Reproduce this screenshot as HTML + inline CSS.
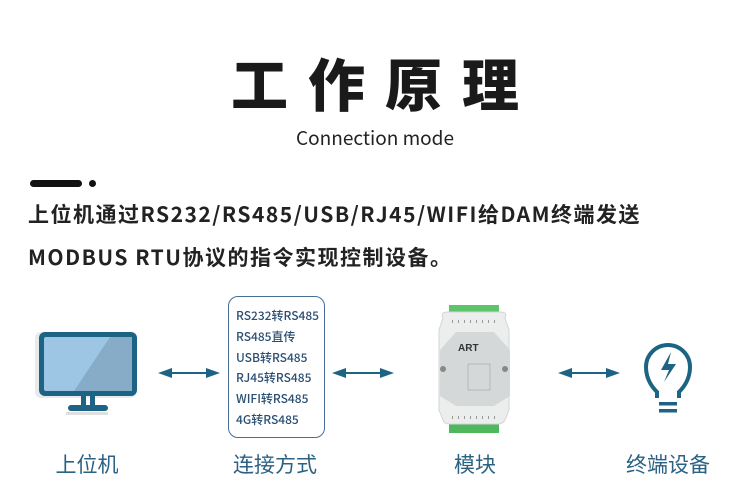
<!DOCTYPE html>
<html><head><meta charset="utf-8"><style>
body{margin:0;width:750px;height:499px;background:#fff;position:relative;overflow:hidden;font-family:"Liberation Sans","Noto Sans CJK SC",sans-serif}
.a{position:absolute;white-space:nowrap}
.title{left:0;width:750px;text-align:center;top:42px;font-family:"Noto Sans CJK SC",sans-serif;font-weight:900;font-size:57px;letter-spacing:20px;text-indent:20px;color:#1a1a1a;line-height:80px}
.sub{left:0;width:750px;text-align:center;top:125px;font-family:"Noto Sans CJK SC",sans-serif;font-size:19px;color:#222;line-height:26px}
.body{left:28px;font-family:"Noto Sans CJK SC",sans-serif;font-weight:700;font-size:21px;letter-spacing:1.5px;color:#222;line-height:30px}
.lab{font-family:"Noto Sans CJK SC",sans-serif;font-size:21px;color:#2b6283;line-height:30px;text-align:center;width:140px}
.box{left:228px;top:296px;width:97px;height:142px;border:1.5px solid #4a6d95;border-radius:10px;box-sizing:border-box}
.box div{font-family:"Noto Sans CJK SC",sans-serif;font-weight:500;font-size:12px;color:#2b4f73;line-height:20.8px;margin-left:7px}
</style></head><body>
<div class="a title">工作原理</div>
<div class="a sub">Connection mode</div>
<div class="a" style="left:30px;top:180px;width:52px;height:7px;border-radius:4px;background:#111"></div>
<div class="a" style="left:89px;top:180px;width:7px;height:7px;border-radius:50%;background:#111"></div>
<div class="a body" style="top:199px">上位机通过RS232/RS485/USB/RJ45/WIFI给DAM终端发送</div>
<div class="a body" style="top:242px">MODBUS RTU协议的指令实现控制设备。</div>

<svg class="a" style="left:0;top:0" width="750" height="499">
 <rect x="36" y="330" width="101" height="66" rx="6" fill="#d8dde2" opacity=".6" transform="translate(-1,2)"/>
 <rect x="39" y="332" width="98" height="64" rx="6" fill="#1d6484"/>
 <rect x="44" y="337" width="88" height="54" rx="2" fill="#9dc6e4"/>
 <polygon points="110,337 132,337 132,391 74,391" fill="#86acc8"/>
 <rect x="81" y="396" width="5" height="12" fill="#1d6484"/>
 <rect x="90" y="396" width="5" height="12" fill="#1d6484"/>
 <rect x="68" y="405" width="40" height="6" rx="3" fill="#1d6484"/>
 <rect x="66" y="412" width="42" height="3" fill="#e0e0e0"/>
 <g fill="#1d6484" stroke="#1d6484">
  <line x1="165" y1="373" x2="213" y2="373" stroke-width="2"/>
  <polygon points="158,373 172,368 172,378" stroke="none"/>
  <polygon points="220,373 206,368 206,378" stroke="none"/>
  <line x1="339" y1="373" x2="387" y2="373" stroke-width="2"/>
  <polygon points="332,373 346,368 346,378" stroke="none"/>
  <polygon points="394,373 380,368 380,378" stroke="none"/>
  <line x1="565" y1="373" x2="613" y2="373" stroke-width="2"/>
  <polygon points="558,373 572,368 572,378" stroke="none"/>
  <polygon points="620,373 606,368 606,378" stroke="none"/>
 </g>
 <rect x="449" y="305" width="50" height="9" fill="#5cc46a"/>
 <rect x="449" y="423" width="50" height="10" fill="#4fb85e"/>
 <path d="M443 318 Q440 312 448 312 L500 312 Q508 312 505 318 L509 330 L509 410 L505 420 Q503 424 498 424 L450 424 Q444 424 443 420 L439 410 L439 330 Z" fill="#eceeed" stroke="#d2d5d4"/>
 <g fill="#999"><rect x="452" y="320" width="1" height="3"/><rect x="458" y="320" width="1" height="3"/><rect x="464" y="320" width="1" height="3"/><rect x="470" y="320" width="1" height="3"/><rect x="476" y="320" width="1" height="3"/><rect x="482" y="320" width="1" height="3"/><rect x="488" y="320" width="1" height="3"/><rect x="494" y="320" width="1" height="3"/>
 <rect x="452" y="416" width="1" height="3"/><rect x="458" y="416" width="1" height="3"/><rect x="464" y="416" width="1" height="3"/><rect x="470" y="416" width="1" height="3"/><rect x="476" y="416" width="1" height="3"/><rect x="482" y="416" width="1" height="3"/><rect x="488" y="416" width="1" height="3"/><rect x="494" y="416" width="1" height="3"/></g>
 <polygon points="456,332 494,332 510,350 510,396 494,406 456,406 440,396 440,350" fill="#d5d8d8"/>
 <text x="458" y="351" font-family="Liberation Sans,sans-serif" font-weight="bold" font-size="10" fill="#333">ART</text>
 <circle cx="443" cy="369" r="3" fill="#888"/><circle cx="505" cy="369" r="3" fill="#888"/>
 <rect x="468" y="364" width="22" height="26" fill="none" stroke="#999" stroke-width=".5"/>
 <g fill="none" stroke="#1d6484" stroke-width="4">
  <path d="M657 398 L657 392 Q646 381 646 367 A22 22 0 1 1 690 367 Q690 381 679 392 L679 398"/>
 </g>
 <polygon points="671,352 661,370 669,370 664,382 676,364 668,364" fill="#1d6484"/>
 <rect x="659" y="402" width="18" height="3.5" fill="#1d6484"/>
 <rect x="659" y="409" width="18" height="3.5" fill="#1d6484"/>
</svg>

<div class="a box"><div style="margin-top:9px">RS232转RS485</div><div>RS485直传</div><div>USB转RS485</div><div>RJ45转RS485</div><div>WIFI转RS485</div><div>4G转RS485</div></div>

<div class="a lab" style="left:17px;top:449px">上位机</div>
<div class="a lab" style="left:205px;top:449px">连接方式</div>
<div class="a lab" style="left:405px;top:449px">模块</div>
<div class="a lab" style="left:598px;top:449px">终端设备</div>
</body></html>
